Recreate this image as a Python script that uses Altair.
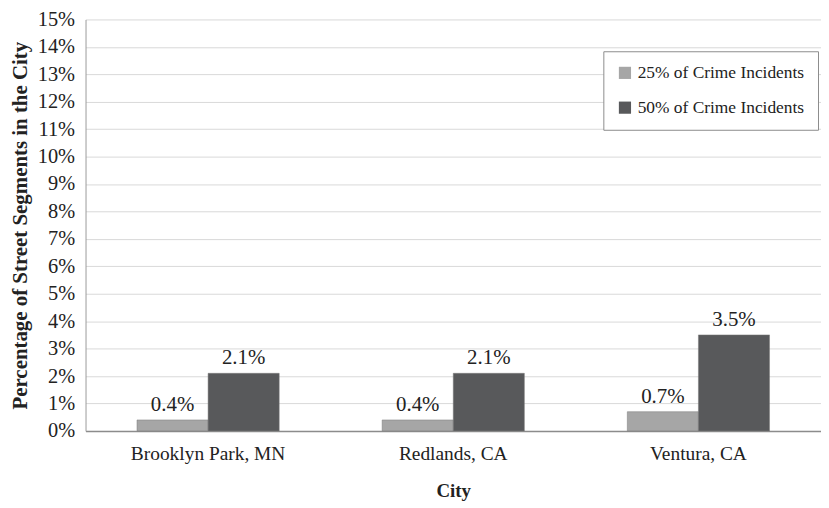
import altair as alt
import pandas as pd

cities = ["Brooklyn Park, MN", "Redlands, CA", "Ventura, CA"]
series = ["25% of Crime Incidents", "50% of Crime Incidents"]
pct25 = [0.004, 0.004, 0.007]
pct50 = [0.021, 0.021, 0.035]
y_ticks = [i / 100 for i in range(0, 16)]

rows = []
for c, a, b in zip(cities, pct25, pct50):
    rows.append({"City": c, "Series": series[0], "Value": a})
    rows.append({"City": c, "Series": series[1], "Value": b})
df = pd.DataFrame(rows)

FONT = "Liberation Serif"

x = alt.X("City:N", sort=cities,
          scale=alt.Scale(paddingInner=0.42, paddingOuter=0.21),
          axis=alt.Axis(title="City", labelAngle=0, labelFontSize=19.5, labelPadding=14,
                        labelFont=FONT, titleFont=FONT,
                        titleFontSize=19, titleFontWeight="bold", titlePadding=18,
                        ticks=False, domainColor="#8c8c8c", domainWidth=1.5,
                        labelColor="#222222", titleColor="#222222"))
y = alt.Y("Value:Q",
          scale=alt.Scale(domain=[0, 0.15], nice=False),
          axis=alt.Axis(title="Percentage of Street Segments in the City", format=".0%",
                        values=y_ticks, labelFontSize=20.5, labelPadding=11, ticks=False,
                        labelOverlap=False, labelFont=FONT, titleFont=FONT,
                        titleFontSize=21, titleFontWeight="bold", titlePadding=7,
                        gridColor="#d9d9d9", gridWidth=1, domainColor="#9a9a9a",
                        labelColor="#222222", titleColor="#222222"))
xo = alt.XOffset("Series:N", sort=series)

bars = alt.Chart(df).mark_bar(stroke="#7a7a7a", strokeWidth=0.5).encode(
    x=x, y=y, xOffset=xo,
    color=alt.Color("Series:N", sort=series,
                    scale=alt.Scale(domain=series, range=["#a6a6a6", "#58595b"]),
                    legend=alt.Legend(title=None, orient="none", legendX=521, legendY=32,
                                      symbolType="square", symbolSize=150,
                                      symbolStrokeWidth=0, labelFontSize=17.5,
                                      labelFont=FONT,
                                      labelColor="#222222", rowPadding=16,
                                      padding=13, strokeColor="#8c8c8c",
                                      fillColor="white", labelLimit=300)),
)

labels = alt.Chart(df).mark_text(baseline="bottom", dy=-5, fontSize=21,
                                 font=FONT, color="#222222").encode(
    x=x, y=y, xOffset=xo,
    text=alt.Text("Value:Q", format=".1%"),
)

chart = (bars + labels).properties(
    width=740, height=414,
    autosize=alt.AutoSizeParams(type="none"),
    padding={"left": 78, "top": 10, "right": 0, "bottom": 70},
).configure(font=FONT).configure_view(stroke=None)

chart.save("out.html", embed_options={"renderer": "svg", "actions": False})
